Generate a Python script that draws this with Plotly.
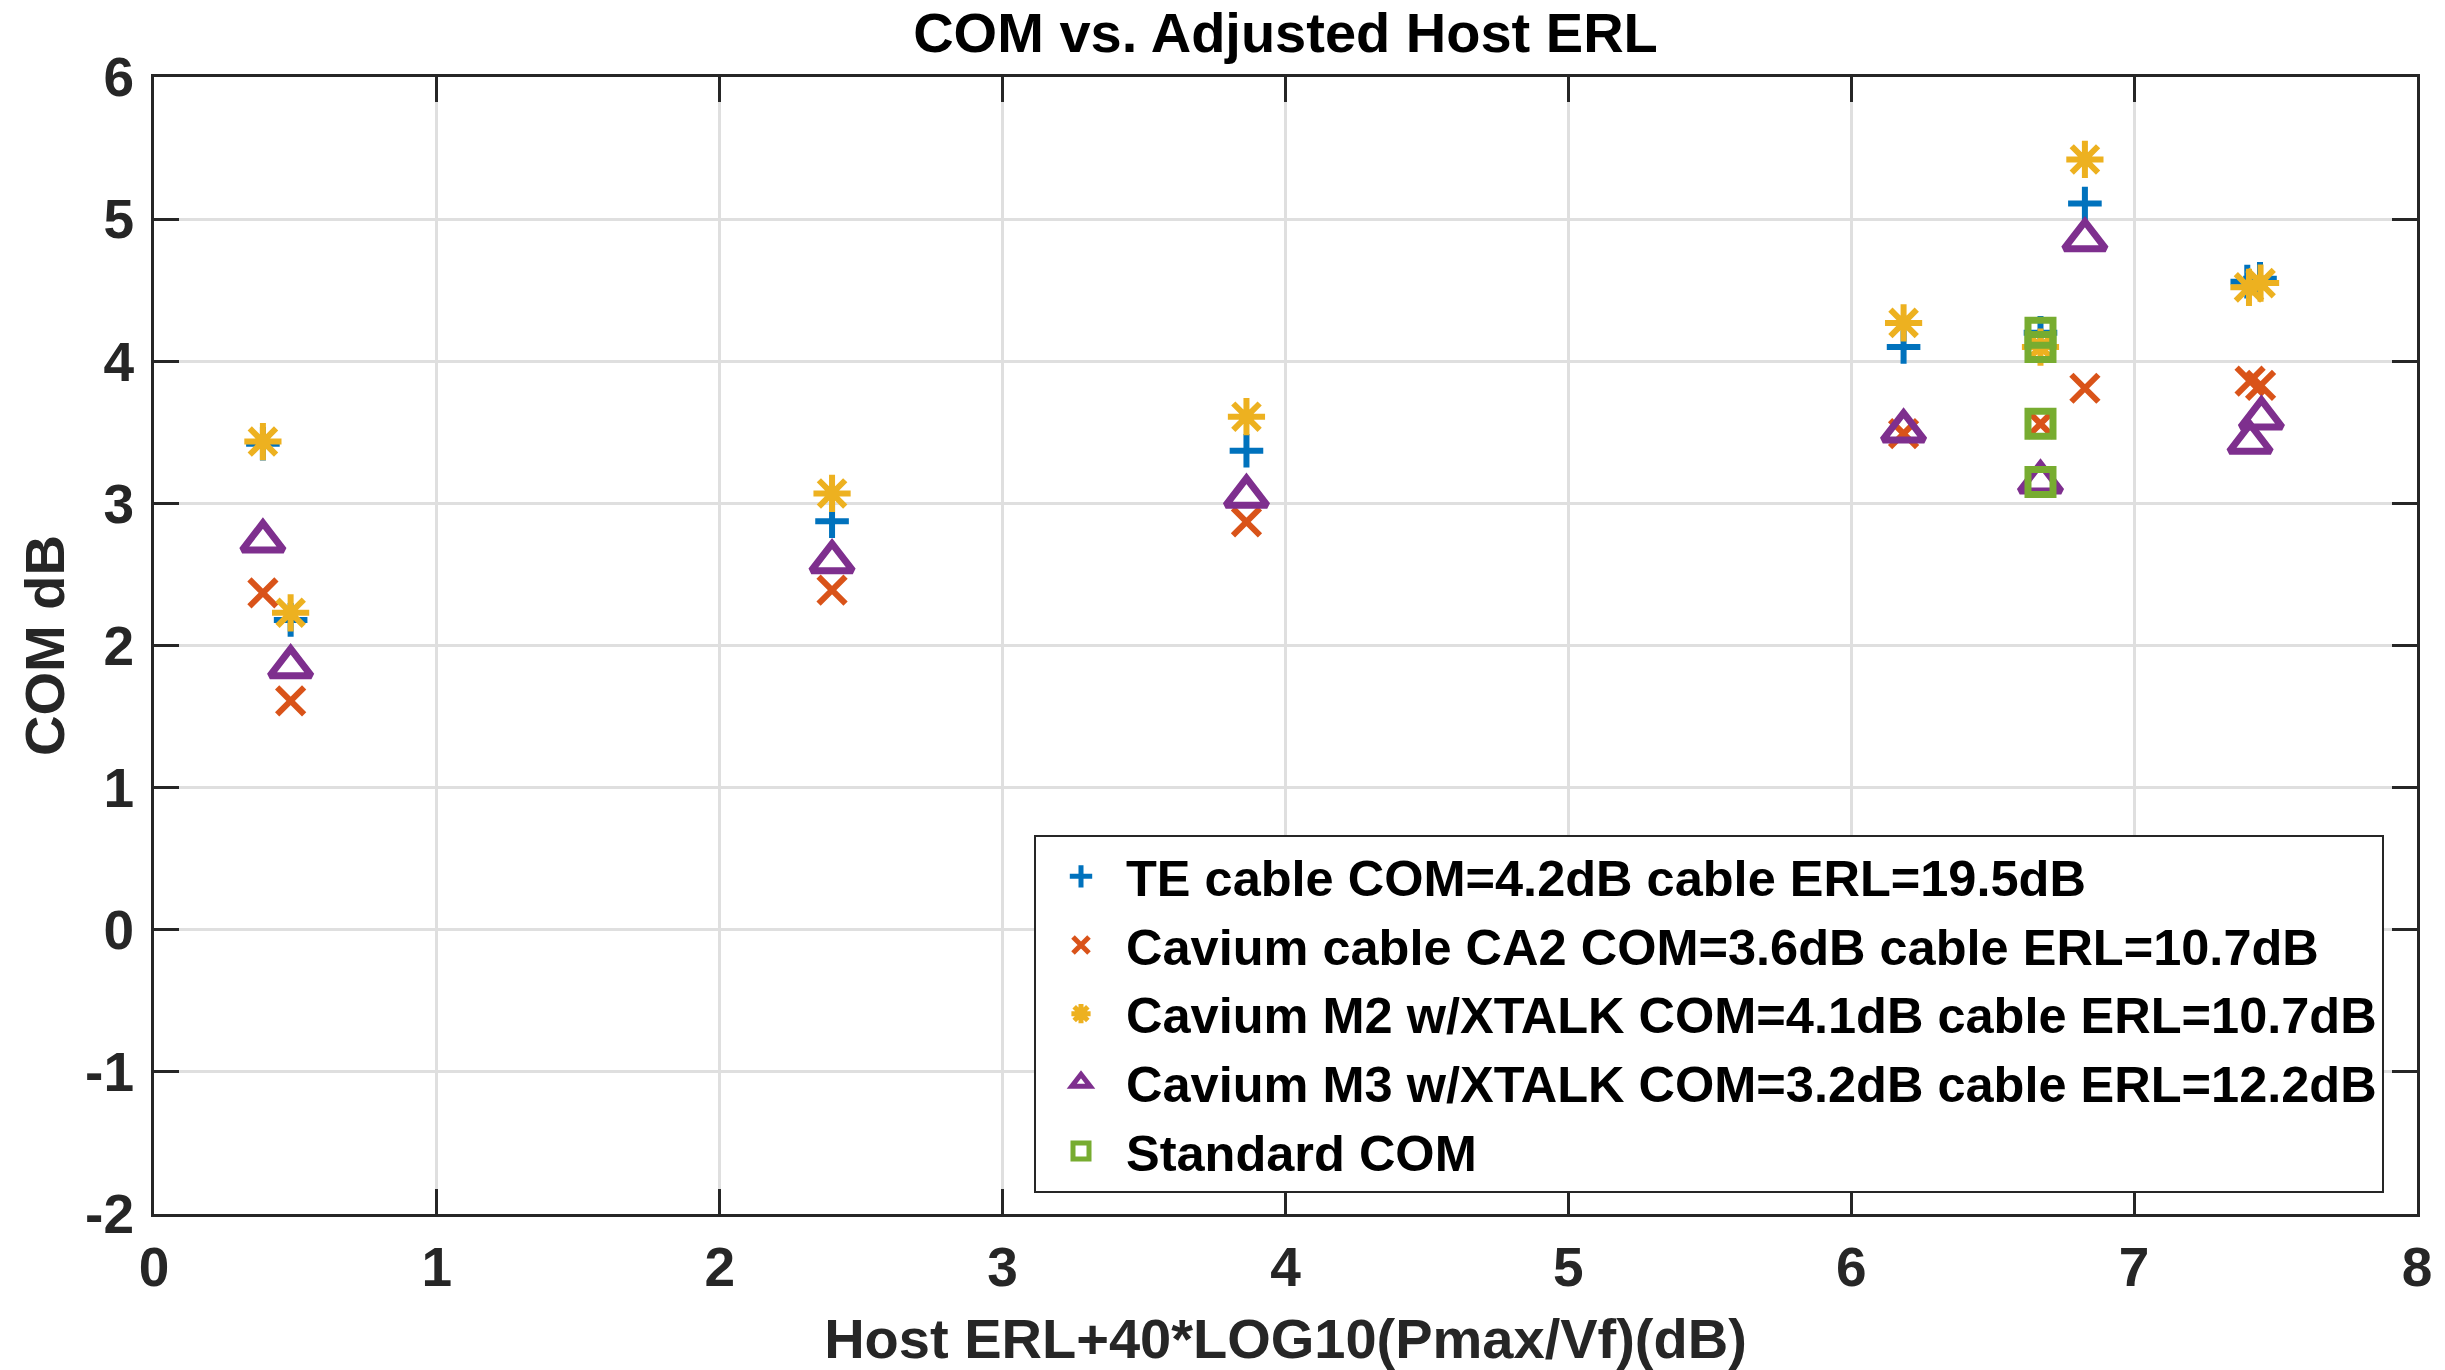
import plotly.graph_objects as go

# ---- data ----
te_x   = [0.385, 0.483, 2.397, 3.862, 6.185, 6.669, 6.826, 7.400, 7.445]
te_y   = [3.42, 2.18, 2.875, 3.37, 4.10, 4.20, 5.11, 4.56, 4.58]

ca2_x  = [0.385, 0.483, 2.397, 3.862, 6.185, 6.669, 6.826, 7.410, 7.447]
ca2_y  = [2.37, 1.61, 2.39, 2.87, 3.49, 3.56, 3.81, 3.86, 3.83]

m2_x   = [0.385, 0.483, 2.397, 3.862, 6.185, 6.669, 6.826, 7.406, 7.447]
m2_y   = [3.435, 2.23, 3.07, 3.61, 4.27, 4.10, 5.42, 4.52, 4.55]

m3_x   = [0.385, 0.483, 2.397, 3.862, 6.185, 6.669, 6.826, 7.410, 7.450]
m3_y   = [2.735, 1.85, 2.59, 3.05, 3.51, 3.15, 4.855, 3.43, 3.60]

std_x  = [6.669, 6.669, 6.669, 6.669]
std_y  = [4.20, 3.56, 4.10, 3.15]

names = [
    "TE cable COM=4.2dB cable ERL=19.5dB",
    "Cavium cable CA2 COM=3.6dB cable ERL=10.7dB",
    "Cavium M2 w/XTALK COM=4.1dB cable ERL=10.7dB",
    "Cavium M3 w/XTALK COM=3.2dB cable ERL=12.2dB",
    "Standard COM",
]

x_ticks = [0, 1, 2, 3, 4, 5, 6, 7, 8]
y_ticks = [-2, -1, 0, 1, 2, 3, 4, 5, 6]

title_text = "COM vs. Adjusted Host ERL"
x_label = "Host ERL+40*LOG10(Pmax/Vf)(dB)"
y_label = "COM dB"

# ---- styling ----
FONT = "Liberation Sans, Arial, Helvetica, sans-serif"
TXT = "#262626"
colors = ["#0072BD", "#D95319", "#EDB120", "#7E2F8E", "#77AC30"]

fig = go.Figure()

series = [
    (te_x, te_y, "cross-thin-open", 24, 6),
    (ca2_x, ca2_y, "x-thin-open", 27, 6),
    (m2_x, m2_y, "asterisk-open", 31, 6),
    (m3_x, m3_y, "triangle-up-open", 36, 7),
    (std_x, std_y, "square-open", 25, 7),
]

for (xs, ys, sym, sz, lw), nm, col in zip(series, names, colors):
    fig.add_trace(go.Scatter(
        x=xs, y=ys, mode="markers", name=nm,
        marker=dict(symbol=sym, size=sz, color=col,
                    line=dict(color=col, width=lw)),
    ))

W, H = 2445, 1370
L, R, T, B = 154, 28, 77, 156

axis_common = dict(
    automargin=False,
    showgrid=True, gridcolor="#dfdfdf", gridwidth=2.5,
    zeroline=False, showline=True, linecolor=TXT, linewidth=3,
    mirror="ticks", ticks="inside", ticklen=25, tickwidth=3, tickcolor=TXT,
    tickfont=dict(family=FONT, size=55, color=TXT, weight="bold"),
)

fig.update_layout(
    width=W, height=H,
    margin=dict(l=L, r=R, t=T, b=B),
    paper_bgcolor="white", plot_bgcolor="white",
    font=dict(family=FONT, color=TXT),
    title=dict(text="<b>" + title_text + "</b>", x=(L + (W - R)) / 2 / W,
               xanchor="center", y=1 - 32 / H, yanchor="middle", yref="container",
               font=dict(family=FONT, size=56, color="black")),
    xaxis=dict(range=[0, 8], tickvals=x_ticks, ticktext=[str(v) for v in x_ticks],
               ticklabelstandoff=3,
               title=dict(text="<b>" + x_label + "</b>", standoff=26,
                          font=dict(family=FONT, size=56, color=TXT)),
               **axis_common),
    yaxis=dict(range=[-2, 6], tickvals=y_ticks, ticktext=[str(v) for v in y_ticks],
               ticklabelstandoff=6,
               title=dict(text="<b>" + y_label + "</b>", standoff=3,
                          font=dict(family=FONT, size=56, color=TXT)),
               **axis_common),
    showlegend=True,
    legend=dict(x=(1034 - L) / (W - L - R), y=(1214 - 1193) / (H - T - B),
                xanchor="left", yanchor="bottom",
                bgcolor="white", bordercolor=TXT, borderwidth=2,
                font=dict(family=FONT, size=50.5, color="black", weight="bold"),
                itemwidth=80, tracegroupgap=0),
)

fig.write_html("out.html",
               config={"displayModeBar": False},
               post_script="document.body.style.margin='0px';document.body.style.overflow='hidden';")
